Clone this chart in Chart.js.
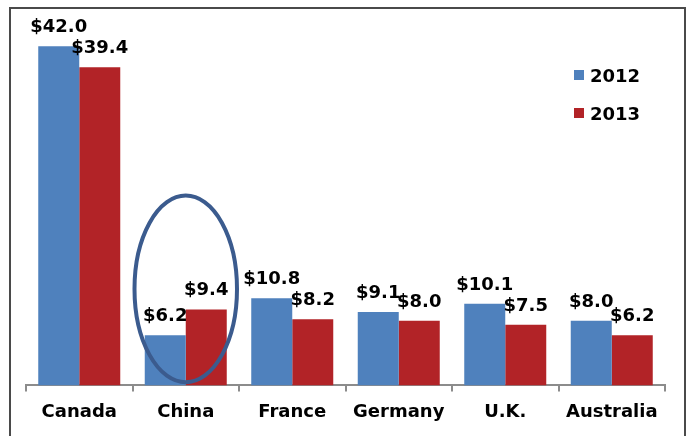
<!DOCTYPE html>
<html>
<head>
<meta charset="utf-8">
<script src="https://cdn.jsdelivr.net/npm/chart.js@4/dist/chart.umd.min.js"></script>
<style>
html,body{margin:0;padding:0;background:#fff;}
#wrap{width:691px;height:436px;position:relative;}
</style>
</head>
<body>
<div id="wrap"><canvas id="c" width="691" height="436"></canvas></div>
<script>
const categories = ['Canada', 'China', 'France', 'Germany', 'U.K.', 'Australia'];
const seriesNames = ['2012', '2013'];
const values2012 = [42.0, 6.2, 10.8, 9.1, 10.1, 8.0];
const values2013 = [39.4, 9.4, 8.2, 8.0, 7.5, 6.2];
const colors = ['#4F81BD', '#B22327'];
const FONT = '"DejaVu Sans", Verdana, sans-serif';

const framePlugin = {
  id: 'frame',
  beforeDraw(chart) {
    const ctx = chart.ctx;
    ctx.save();
    ctx.fillStyle = '#fff';
    ctx.fillRect(0, 0, chart.width, chart.height);
    ctx.strokeStyle = '#4a4a4a';
    ctx.lineWidth = 2;
    ctx.strokeRect(10, 8, 675, 440);
    ctx.restore();
  }
};

const labelPlugin = {
  id: 'valueLabels',
  afterDatasetsDraw(chart) {
    const ctx = chart.ctx;
    const xs = chart.scales.x, ys = chart.scales.y;
    // highlight ellipse around China
    const cx = xs.getPixelForValue(1);
    const left = xs.getPixelForValue(0.5), right = xs.getPixelForValue(1.5);
    const top = ys.getPixelForValue(23.5), bottom = ys.getPixelForValue(0.4);
    ctx.save();
    ctx.beginPath();
    ctx.ellipse(cx, (top + bottom) / 2, (right - left) / 2 - 2, (bottom - top) / 2, 0, 0, Math.PI * 2);
    ctx.strokeStyle = '#3B5B8E';
    ctx.lineWidth = 4;
    ctx.stroke();
    ctx.restore();

    ctx.save();
    ctx.font = 'bold 18px ' + FONT;
    ctx.fillStyle = '#000';
    ctx.textAlign = 'center';
    ctx.textBaseline = 'alphabetic';
    chart.data.datasets.forEach((ds, di) => {
      const meta = chart.getDatasetMeta(di);
      meta.data.forEach((bar, i) => {
        ctx.fillText('$' + ds.data[i].toFixed(1), bar.x, bar.y - 14);
      });
    });
    // legend
    const ca = chart.chartArea;
    chart.data.datasets.forEach((ds, di) => {
      const x = ca.right - 91, y = ca.top + 48 + di * 38;
      ctx.fillStyle = ds.backgroundColor;
      ctx.fillRect(x, y, 10, 10);
      ctx.fillStyle = '#000';
      ctx.textAlign = 'left';
      ctx.fillText(ds.label, x + 16, y + 12);
    });
    ctx.restore();
  }
};

new Chart(document.getElementById('c'), {
  type: 'bar',
  data: {
    labels: categories,
    datasets: [
      { label: seriesNames[0], data: values2012, backgroundColor: colors[0], borderWidth: 0 },
      { label: seriesNames[1], data: values2013, backgroundColor: colors[1], borderWidth: 0 }
    ]
  },
  options: {
    responsive: false,
    animation: false,
    layout: { padding: { left: 26, right: 26, top: 22, bottom: 3 } },
    plugins: { legend: { display: false }, tooltip: { enabled: false } },
    datasets: { bar: { categoryPercentage: 0.77, barPercentage: 1.0 } },
    scales: {
      y: { display: false, min: 0, max: 45 },
      x: {
        offset: true,
        grid: { display: true, offset: true, drawOnChartArea: false, drawTicks: true, tickLength: 6, color: '#8c8c8c', lineWidth: 2 },
        border: { display: true, color: '#8c8c8c', width: 2 },
        ticks: { color: '#000', padding: 10, font: { family: FONT, size: 18, weight: 'bold' } }
      }
    }
  },
  plugins: [framePlugin, labelPlugin]
});
</script>
</body>
</html>
